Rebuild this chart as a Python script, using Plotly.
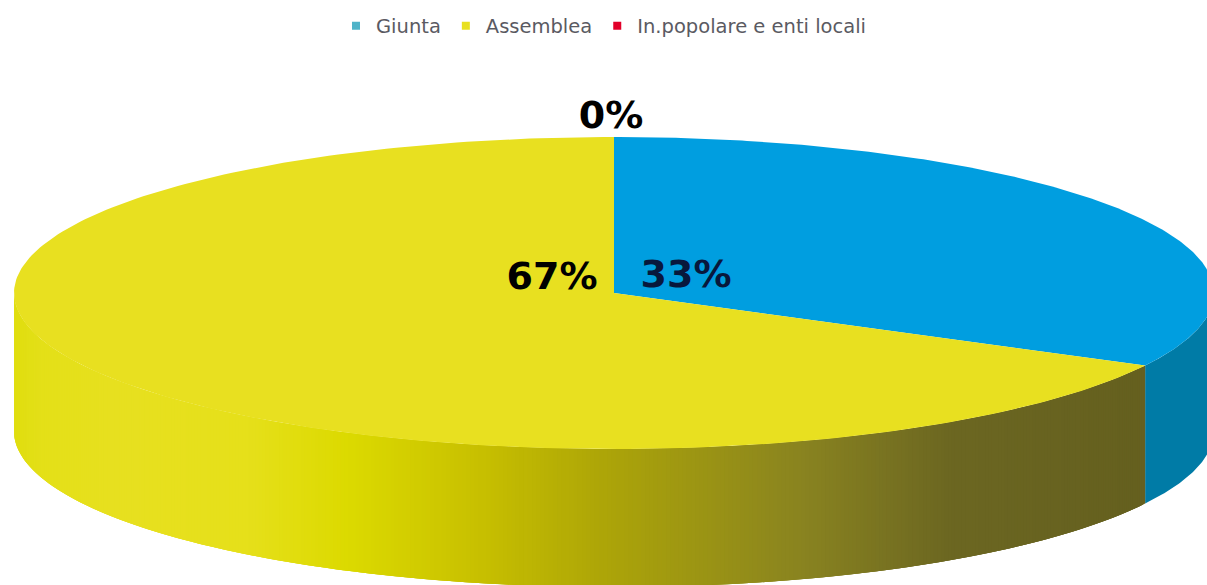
import numpy as np
import plotly.graph_objects as go

categories = ["Giunta", "Assemblea", "In.popolare e enti locali"]
values = [32.7, 67.3, 0.0]
slice_colors = ["#009ee0", "#e8e020", "#e2002a"]
legend_colors = ["#4fb3c8", "#e8e020", "#e2002a"]
label_colors = ["#08183c", "#000000", "#000000"]

W, H = 1207, 585
CX, CY, RX, RY, DEPTH = 614, 293, 600, 156, 138

wall_stops_x = [14, 40, 120, 250, 350, 480, 600, 800, 950, 1145]
wall_stops_rgb = [(224, 222, 16), (228, 224, 24), (232, 224, 32), (230, 224, 26), (220, 218, 0),
                  (200, 192, 0), (174, 166, 8), (138, 132, 32), (108, 103, 34), (101, 96, 31)]
BLUE_WALL = "#007ba6"
STEP = np.radians(0.4)


def px(t):
    return CX + RX * np.sin(t)


def py(t):
    return CY - RY * np.cos(t)


def wall_color(x):
    c = [np.interp(x, wall_stops_x, [s[i] for s in wall_stops_rgb]) for i in range(3)]
    return "rgb(%d,%d,%d)" % tuple(c)


fig = go.Figure()
fractions = np.array(values) / sum(values)
edges = np.concatenate([[0], np.cumsum(fractions)]) * 2 * np.pi


def add_poly(xs, ys, color):
    fig.add_trace(go.Scatter(x=xs, y=ys, mode="lines", fill="toself", fillcolor=color,
                             line=dict(color=color, width=0), showlegend=False,
                             hoverinfo="skip"))


# Side wall: front half only; each strip overlaps the next so no seams appear
for i in range(len(values)):
    a = max(edges[i], np.pi / 2)
    b = min(edges[i + 1], 3 * np.pi / 2)
    if b <= a:
        continue
    if i == 0:
        t = np.linspace(a, b, 60)
        add_poly(np.concatenate([px(t), px(t[::-1])]),
                 np.concatenate([py(t), py(t[::-1]) + DEPTH]), BLUE_WALL)
        continue
    n = max(2, int((b - a) / STEP))
    grid = np.linspace(a, b, n + 1)
    for k in range(n):
        t = np.linspace(grid[k], grid[min(k + 3, n)], 6)
        xs = np.concatenate([px(t), px(t[::-1])])
        ys = np.concatenate([py(t), py(t[::-1]) + DEPTH])
        add_poly(xs, ys, wall_color((px(grid[k]) + px(grid[k + 1])) / 2))

# Top face sectors
for i in range(len(values)):
    if fractions[i] <= 0:
        continue
    t = np.linspace(edges[i], edges[i + 1], 240)
    xs = np.concatenate([[CX], px(t), [CX]])
    ys = np.concatenate([[CY], py(t), [CY]])
    add_poly(xs, ys, slice_colors[i])

# Percent labels
label_pos = [(686, 277), (552, 279), (611, 118)]
fig.add_trace(go.Scatter(
    x=[p[0] for p in label_pos], y=[p[1] for p in label_pos], mode="text",
    text=["%d%%" % round(v) for v in values],
    textposition="middle center",
    textfont=dict(family="DejaVu Sans", size=38, color=label_colors, weight="bold"),
    showlegend=False, hoverinfo="skip"))

# Legend entries
for name, color in zip(categories, legend_colors):
    fig.add_trace(go.Scatter(x=[None], y=[None], mode="markers", name=name,
                             marker=dict(symbol="square", size=8, color=color)))

fig.update_layout(
    width=W, height=H, margin=dict(l=0, r=0, t=0, b=0, pad=0),
    paper_bgcolor="white", plot_bgcolor="white",
    xaxis=dict(range=[0, W], visible=False, fixedrange=True),
    yaxis=dict(range=[H, 0], visible=False, fixedrange=True),
    legend=dict(orientation="h", x=0.5, xanchor="center", y=1 - 26 / H, yanchor="middle",
                font=dict(family="DejaVu Sans", size=19.5, color="#5a5a62"),
                bgcolor="rgba(0,0,0,0)", itemwidth=30),
)

fig.write_html("out.html", config={"displayModeBar": False},
               post_script="document.body.style.margin='0';document.documentElement.style.overflow='hidden';")
